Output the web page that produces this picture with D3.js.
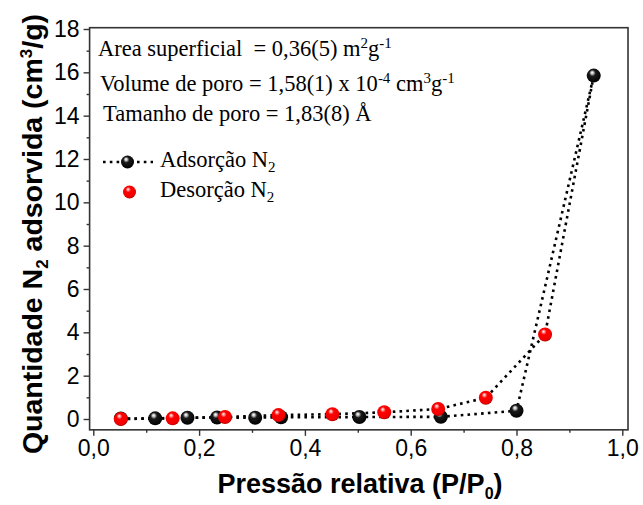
<!DOCTYPE html>
<html>
<head>
<meta charset="utf-8">
<script src="https://cdn.jsdelivr.net/npm/d3@7"></script>
<style>
  html, body { margin: 0; padding: 0; background: #fff; }
  svg { display: block; }
</style>
</head>
<body>
<svg id="chart" width="643" height="505"></svg>
<script>
// ---- data ----
const adsorptionX = [0.052, 0.117, 0.178, 0.234, 0.306, 0.355, 0.503, 0.657, 0.800, 0.946];
const adsorptionY = [0.02, 0.03, 0.06, 0.07, 0.06, 0.08, 0.09, 0.10, 0.38, 15.85];
const desorptionX = [0.052, 0.150, 0.249, 0.350, 0.452, 0.550, 0.652, 0.742, 0.854];
const desorptionY = [0.00, 0.03, 0.09, 0.18, 0.22, 0.31, 0.46, 0.98, 3.90];
const xTicks = [0, 0.2, 0.4, 0.6, 0.8, 1.0];
const xMinorTicks = [0.1, 0.3, 0.5, 0.7, 0.9];
const yTicks = [0, 2, 4, 6, 8, 10, 12, 14, 16, 18];
const yMinorTicks = [1, 3, 5, 7, 9, 11, 13, 15, 17];
const seriesNames = ["Adsorção N", "Desorção N"];
const xDomain = [-0.007, 1.0108];
const yDomain = [-0.5, 18.06];

(function () {
const svg = d3.select("#chart");
const x = d3.scaleLinear().domain([0, 1]).range([93.3, 622.3]);
const y = d3.scaleLinear().domain([0, 18]).range([419, 29]);

const fLeft = x(xDomain[0]), fRight = x(xDomain[1]);
const fTop = y(yDomain[1]), fBottom = y(yDomain[0]);

// defs: sphere gradients
const defs = svg.append("defs");
function sphere(id, stops) {
  const g = defs.append("radialGradient").attr("id", id)
    .attr("cx", "0.45").attr("cy", "0.4").attr("r", "0.6")
    .attr("fx", "0.38").attr("fy", "0.28");
  stops.forEach(s => g.append("stop").attr("offset", s[0]).attr("stop-color", s[1]));
}
sphere("gBlack", [[0, "#ffffff"], [0.14, "#cfcfcf"], [0.38, "#1a1a1a"], [1, "#000000"]]);
sphere("gRed", [[0, "#ffffff"], [0.14, "#ff9a9a"], [0.34, "#ff0000"], [0.85, "#f00000"], [1, "#b00000"]]);

// frame
svg.append("rect").attr("x", fLeft).attr("y", fTop)
  .attr("width", fRight - fLeft).attr("height", fBottom - fTop)
  .attr("fill", "none").attr("stroke", "#333").attr("stroke-width", 1.6);

const fmt = d => d === 0 ? "0,0" : d.toFixed(1).replace(".", ",");

// x axis
svg.append("g").attr("transform", `translate(0,${fBottom})`)
  .call(d3.axisBottom(x).tickValues(xTicks).tickSize(6).tickPadding(4).tickFormat(fmt));
svg.append("g").attr("transform", `translate(0,${fBottom})`)
  .call(d3.axisBottom(x).tickValues(xMinorTicks).tickSize(3).tickFormat(""));
// y axis
svg.append("g").attr("transform", `translate(${fLeft},0)`)
  .call(d3.axisLeft(y).tickValues(yTicks).tickSize(6).tickPadding(4).tickFormat(d3.format("d")));
svg.append("g").attr("transform", `translate(${fLeft},0)`)
  .call(d3.axisLeft(y).tickValues(yMinorTicks).tickSize(3).tickFormat(""));

svg.selectAll(".domain").remove();
svg.selectAll(".tick line").attr("stroke", "#333").attr("stroke-width", 1.4);
svg.selectAll(".tick text").attr("font-family", "Arial, 'Liberation Sans', sans-serif")
  .attr("font-size", 23).attr("fill", "#000");

// axis titles
const xt = svg.append("text").attr("x", 360).attr("y", 493).attr("text-anchor", "middle")
  .attr("font-family", "Arial, 'Liberation Sans', sans-serif").attr("font-weight", "bold")
  .attr("font-size", 27).attr("fill", "#000");
xt.append("tspan").text("Pressão relativa (P/P");
xt.append("tspan").attr("font-size", 16).attr("dy", 6).text("0");
xt.append("tspan").attr("dy", -6).text(")");

const yt = svg.append("text").attr("transform", "translate(42,234) rotate(-90)")
  .attr("text-anchor", "middle")
  .attr("font-family", "Arial, 'Liberation Sans', sans-serif").attr("font-weight", "bold")
  .attr("font-size", 28.5).attr("fill", "#000");
yt.append("tspan").text("Quantidade N");
yt.append("tspan").attr("font-size", 17).attr("dy", 6).text("2");
yt.append("tspan").attr("dy", -6).text(" adsorvida (cm");
yt.append("tspan").attr("font-size", 17).attr("dy", -10).text("3");
yt.append("tspan").attr("dy", 10).text("/g)");

// lines
const adsPts = adsorptionX.map((v, i) => [v, adsorptionY[i]]);
const desPts = desorptionX.map((v, i) => [v, desorptionY[i]]);
const line = d3.line().x(d => x(d[0])).y(d => y(d[1]));
const dash = "2.6,4.2";
svg.append("path").attr("d", line(adsPts)).attr("fill", "none")
  .attr("stroke", "#000").attr("stroke-width", 2.6).attr("stroke-dasharray", dash);
const topPt = adsPts[adsPts.length - 1];
svg.append("path").attr("d", line([topPt].concat(desPts.slice().reverse()))).attr("fill", "none")
  .attr("stroke", "#000").attr("stroke-width", 2.6).attr("stroke-dasharray", dash);

// markers
const R = 7;
svg.append("g").selectAll("circle").data(adsPts).join("circle")
  .attr("cx", d => x(d[0])).attr("cy", d => y(d[1])).attr("r", R)
  .attr("fill", "url(#gBlack)");
svg.append("g").selectAll("circle").data(desPts).join("circle")
  .attr("cx", d => x(d[0])).attr("cy", d => y(d[1])).attr("r", R)
  .attr("fill", "url(#gRed)");

// annotations
const serif = "'Times New Roman', 'Liberation Serif', serif";
const fs = 22.5;
function ann(xp, yp, parts) {
  const t = svg.append("text").attr("x", xp).attr("y", yp)
    .attr("font-family", serif).attr("font-size", fs).attr("fill", "#000")
    .style("white-space", "pre");
  let shift = 0;
  parts.forEach(p => {
    const ts = t.append("tspan").text(p[0]);
    const target = p[1] === "sup" ? -8 : p[1] === "sub" ? 5 : 0;
    if (target !== shift) { ts.attr("dy", target - shift); shift = target; }
    if (p[1]) ts.attr("font-size", 15);
  });
  return t;
}
ann(98, 56, [["Area superficial  = 0,36(5) m"], ["2", "sup"], ["g"], ["-1", "sup"]]);
ann(100, 91, [["Volume de poro = 1,58(1) x 10"], ["-4", "sup"], [" cm"], ["3", "sup"], ["g"], ["-1", "sup"]]);
ann(103, 121, [["Tamanho de poro = 1,83(8) Å"]]);

// legend
const lgY1 = 162, lgY2 = 192;
svg.append("line").attr("x1", 103).attr("x2", 153).attr("y1", lgY1).attr("y2", lgY1)
  .attr("stroke", "#000").attr("stroke-width", 2.6).attr("stroke-dasharray", dash);
svg.append("circle").attr("cx", 127.5).attr("cy", lgY1).attr("r", 6.5).attr("fill", "url(#gBlack)");
svg.append("circle").attr("cx", 129.5).attr("cy", lgY2).attr("r", 6.5).attr("fill", "url(#gRed)");
ann(160, 167, [[seriesNames[0]], ["2", "sub"]]);
ann(160, 197, [[seriesNames[1]], ["2", "sub"]]);
})();
</script>
</body>
</html>
